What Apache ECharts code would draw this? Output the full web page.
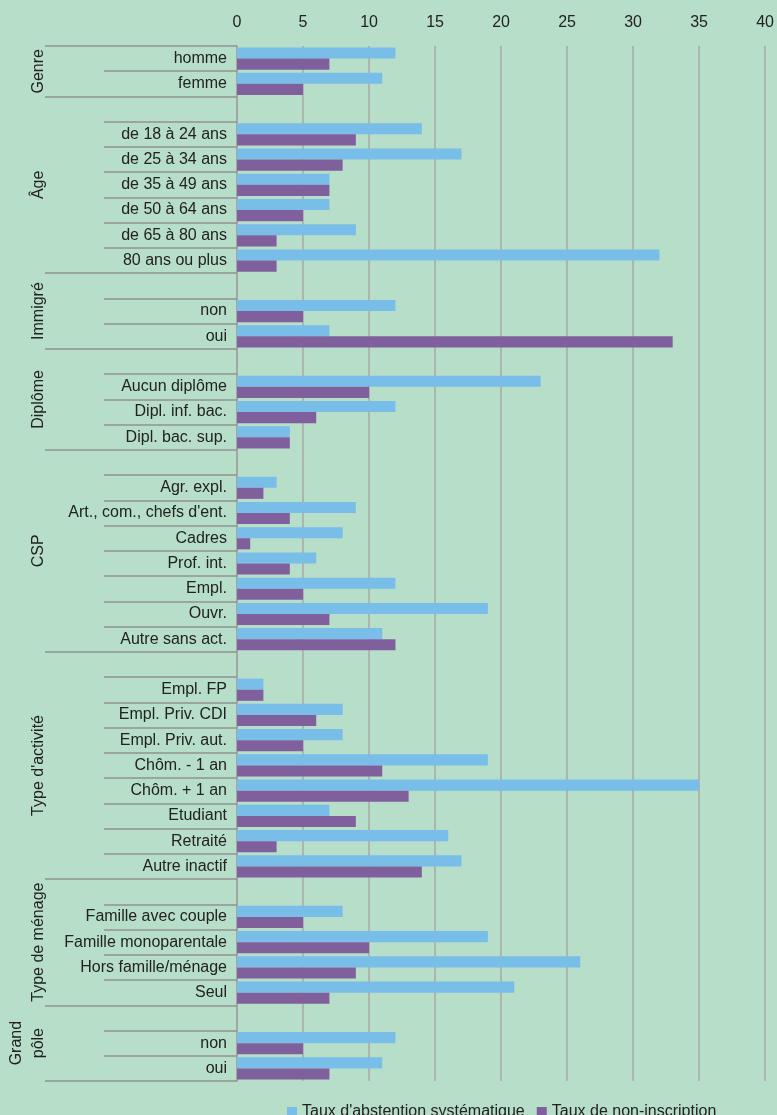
<!DOCTYPE html>
<html>
<head>
<meta charset="utf-8">
<script src="https://cdn.jsdelivr.net/npm/echarts@6/dist/echarts.min.js"></script>
<style>
html, body { margin: 0; padding: 0; background: #b7dec8; }
#main { width: 777px; height: 1115px; }
</style>
</head>
<body>
<div id="main"></div>
<script>
// rows of the chart, blank rows open each group (as in the original)
const categories = [
    'homme', 'femme',
    ' ', 'de 18 à 24 ans', 'de 25 à 34 ans', 'de 35 à 49 ans', 'de 50 à 64 ans', 'de 65 à 80 ans', '80 ans ou plus',
    '  ', 'non', 'oui',
    '   ', 'Aucun diplôme', 'Dipl. inf. bac.', 'Dipl. bac. sup.',
    '    ', 'Agr. expl.', 'Art., com., chefs d\'ent.', 'Cadres', 'Prof. int.', 'Empl.', 'Ouvr.', 'Autre sans act.',
    '     ', 'Empl. FP', 'Empl. Priv. CDI', 'Empl. Priv. aut.', 'Chôm. - 1 an', 'Chôm. + 1 an', 'Etudiant', 'Retraité', 'Autre inactif',
    '      ', 'Famille avec couple', 'Famille monoparentale', 'Hors famille/ménage', 'Seul',
    '       ', 'non', 'oui'
];
const abstention = [
    12, 11,
    null, 14, 17, 7, 7, 9, 32,
    null, 12, 7,
    null, 23, 12, 4,
    null, 3, 9, 8, 6, 12, 19, 11,
    null, 2, 8, 8, 19, 35, 7, 16, 17,
    null, 8, 19, 26, 21,
    null, 12, 11
];
const nonInscription = [
    7, 5,
    null, 9, 8, 7, 5, 3, 3,
    null, 5, 33,
    null, 10, 6, 4,
    null, 2, 4, 1, 4, 5, 7, 12,
    null, 2, 6, 5, 11, 13, 9, 3, 14,
    null, 5, 10, 9, 7,
    null, 5, 7
];
const groupNames = ['Genre', 'Âge', 'Immigré', 'Diplôme', 'CSP', 'Type d\'activité', 'Type de ménage', 'Grand\npôle'];
const groupStarts = [0, 2, 9, 12, 16, 24, 33, 38];
const seriesNames = ['Taux d\'abstention systématique', 'Taux de non-inscription'];

const rowCount = categories.length;
const groupBounds = groupStarts.concat([rowCount]);
const groupCenters = groupStarts.map((s, i) => (s + groupBounds[i + 1]) / 2);

const font = 'Liberation Sans, Arial, sans-serif';
const chart = echarts.init(document.getElementById('main'));
const option = {
    backgroundColor: '#b7dec8',
    textStyle: { fontFamily: font },
    grid: { left: 237, right: 11, top: 46, bottom: 34 },
    legend: {
        left: 287,
        top: 1104,
        padding: 0,
        icon: 'rect',
        itemWidth: 10,
        itemHeight: 10,
        itemGap: 12,
        textStyle: { fontSize: 16, color: '#222', fontFamily: font },
        data: seriesNames
    },
    xAxis: {
        type: 'value',
        position: 'top',
        min: 0,
        max: 40,
        interval: 5,
        axisLine: { show: false },
        axisTick: { show: false },
        axisLabel: { fontSize: 16, color: '#222', margin: 15 },
        splitLine: { lineStyle: { color: '#a9a9a9', width: 1.5 } }
    },
    yAxis: [
        {
            type: 'category',
            inverse: true,
            data: categories,
            axisLine: { show: true, lineStyle: { color: '#a0a0a0', width: 1.5 } },
            axisTick: { show: true, interval: 0, length: 133, lineStyle: { color: '#939393', width: 1.5 } },
            axisLabel: { interval: 0, fontSize: 16, color: '#222', margin: 10 }
        },
        {
            // group labels and long separators
            type: 'value',
            position: 'left',
            inverse: true,
            min: 0,
            max: rowCount,
            axisLine: { show: false },
            splitLine: { show: false },
            axisTick: {
                show: true,
                customValues: groupBounds,
                length: 192,
                lineStyle: { color: '#939393', width: 1.5 }
            },
            axisLabel: {
                customValues: groupCenters,
                rotate: 90,
                margin: 187,
                fontSize: 16,
                color: '#222',
                lineHeight: 22,
                formatter: function (v) {
                    const i = groupCenters.indexOf(v);
                    return i >= 0 ? groupNames[i] : '';
                }
            }
        }
    ],
    series: [
        {
            name: seriesNames[0],
            type: 'bar',
            data: abstention,
            barGap: 0,
            barCategoryGap: '12%',
            itemStyle: { color: '#79bde9' }
        },
        {
            name: seriesNames[1],
            type: 'bar',
            data: nonInscription,
            barGap: 0,
            barCategoryGap: '12%',
            itemStyle: { color: '#805f9d' }
        }
    ]
};
chart.setOption(option);
</script>
</body>
</html>
